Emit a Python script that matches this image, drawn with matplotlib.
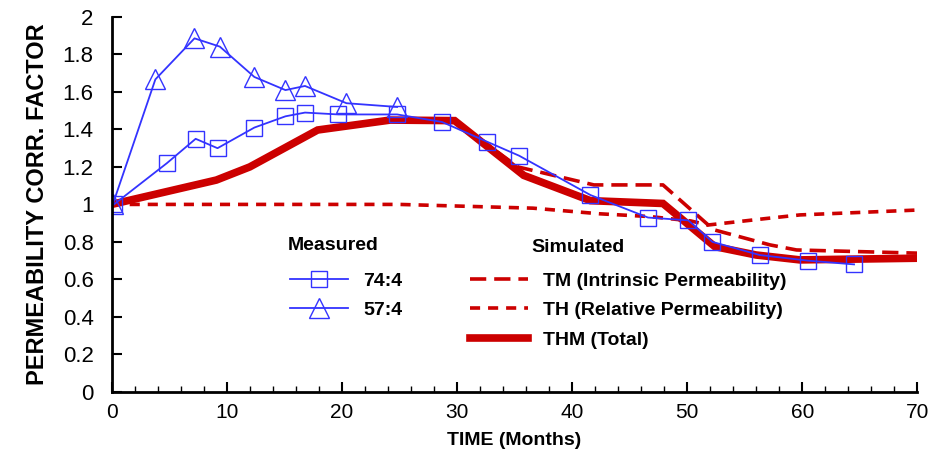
import matplotlib.pyplot as plt
from matplotlib.ticker import MultipleLocator

plt.rcParams['font.family'] = ['Liberation Sans', 'DejaVu Sans']

# measured data
t_74 = [0.2, 4.8, 7.3, 9.2, 12.4, 15.1, 16.8, 19.7, 24.8, 28.7, 32.6, 35.4, 41.6, 46.6, 50.1, 52.2, 56.3, 60.5, 64.5]
k_74 = [1.00, 1.22, 1.35, 1.30, 1.41, 1.47, 1.49, 1.48, 1.48, 1.44, 1.335, 1.26, 1.05, 0.93, 0.915, 0.80, 0.73, 0.70, 0.68]

t_57 = [0.1, 3.8, 7.2, 9.4, 12.4, 15.1, 16.8, 20.4, 24.8]
k_57 = [1.00, 1.667, 1.886, 1.842, 1.68, 1.61, 1.632, 1.54, 1.52]

# simulated
t_thm = [0, 9.1, 12, 17.9, 24.2, 29.8, 35.8, 41.6, 47.9, 52.4, 56, 59.8, 70]
k_thm = [1.0, 1.13, 1.20, 1.397, 1.45, 1.447, 1.155, 1.02, 1.005, 0.775, 0.73, 0.704, 0.713]

t_tm = [0, 9.1, 12, 17.9, 24.2, 29.8, 35.3, 41.9, 47.9, 52.3, 57.2, 59.5, 70]
k_tm = [1.0, 1.13, 1.20, 1.397, 1.45, 1.447, 1.20, 1.104, 1.104, 0.865, 0.784, 0.757, 0.74]

t_th = [0, 25, 36.6, 42.4, 46.8, 50.3, 51.8, 56.9, 59.8, 70]
k_th = [1.0, 1.0, 0.98, 0.95, 0.935, 0.912, 0.89, 0.925, 0.944, 0.97]

blue = '#3333ff'
red = '#cc0000'

fig = plt.figure(figsize=(9.38, 4.53), dpi=100)
ax = fig.add_axes([0.119, 0.135, 0.859, 0.8275])

h_tm, = ax.plot(t_tm, k_tm, color=red, lw=2.6, dashes=(4.5, 2.2))
h_th, = ax.plot(t_th, k_th, color=red, lw=2.6, dashes=(2.8, 2.2))
h_thm, = ax.plot(t_thm, k_thm, color=red, lw=5.5, solid_joinstyle='miter')
h_74, = ax.plot(t_74, k_74, color=blue, lw=1.3, marker='s', ms=12, mfc='none', mec=blue, mew=1.0)
h_57, = ax.plot(t_57, k_57, color=blue, lw=1.3, marker='^', ms=14, mfc='none', mec=blue, mew=1.0)

ax.set_xlim(0, 70)
ax.set_ylim(0, 2)
ax.xaxis.set_major_locator(MultipleLocator(10))
ax.xaxis.set_minor_locator(MultipleLocator(2))
ax.yaxis.set_major_locator(MultipleLocator(0.2))
ax.yaxis.set_major_formatter(plt.FuncFormatter(lambda v, p: f'{v:g}'))
ax.tick_params(axis='both', which='major', direction='in', length=7, width=1.5)
ax.tick_params(axis='y', labelsize=16, pad=13)
ax.tick_params(axis='x', labelsize=15, pad=8)
ax.tick_params(axis='x', which='minor', direction='in', length=4, width=1)
for s in ['top', 'right']:
    ax.spines[s].set_visible(False)
for s in ['left', 'bottom']:
    ax.spines[s].set_linewidth(2)

ax.set_xlabel('TIME (Months)', fontsize=14, fontweight='bold', labelpad=7)
ax.set_ylabel('PERMEABILITY CORR. FACTOR', fontsize=17, fontweight='bold', labelpad=10)

leg_font = {'size': 14, 'weight': 'bold'}
leg1 = ax.legend([h_74, h_57], ['74:4', '57:4'], loc='upper left',
                 bbox_to_anchor=(290 / 938, 1 - 272 / 453), bbox_transform=fig.transFigure,
                 frameon=False, numpoints=1, handlelength=3.0, handletextpad=0.75,
                 labelspacing=0.62, borderpad=0, borderaxespad=0, prop=leg_font)
ax.add_artist(leg1)
ax.legend([h_tm, h_th, h_thm],
          ['TM (Intrinsic Permeability)', 'TH (Relative Permeability)', 'THM (Total)'],
          loc='upper left', bbox_to_anchor=(470 / 938, 1 - 272 / 453), bbox_transform=fig.transFigure,
          frameon=False, handlelength=3.0, handletextpad=0.75, labelspacing=0.62,
          borderpad=0, borderaxespad=0, prop=leg_font)

fig.text(333 / 938, 1 - 246 / 453, 'Measured', ha='center', va='center', fontsize=14, fontweight='bold')
fig.text(578 / 938, 1 - 247 / 453, 'Simulated', ha='center', va='center', fontsize=14, fontweight='bold')

fig.savefig('out.png', dpi=100)
